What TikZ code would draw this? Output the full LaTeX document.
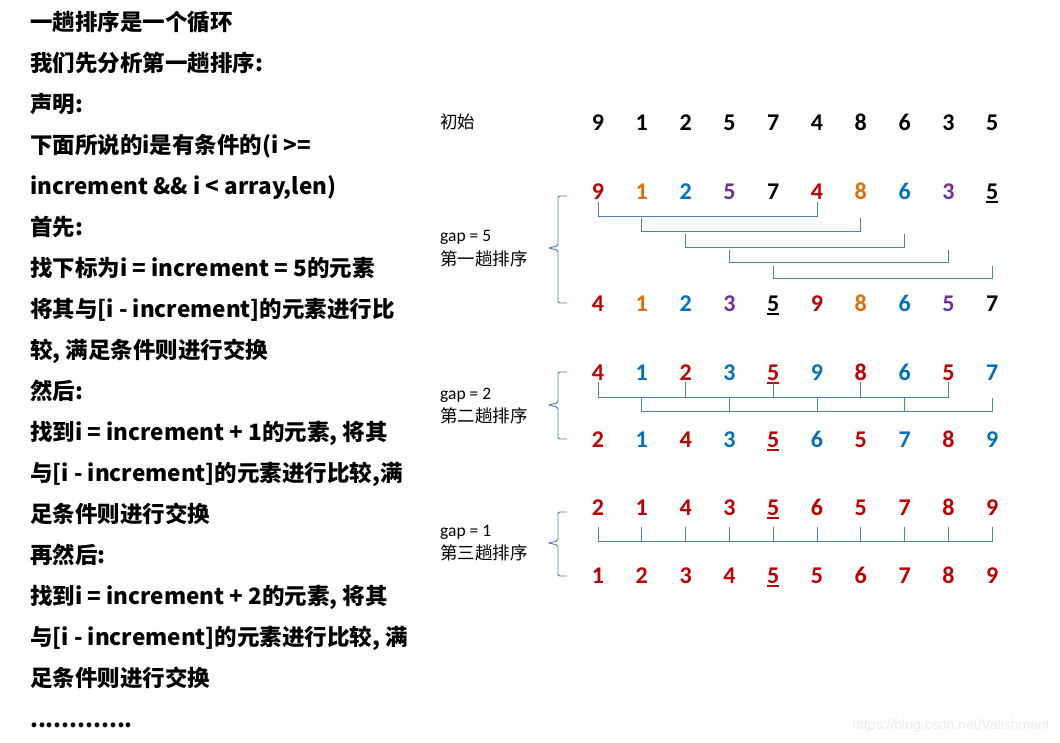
\documentclass[tikz,border=0pt]{standalone}
\usepackage{fontspec}
\usepackage{tikz}
\usetikzlibrary{calc}
\newfontfamily\cjk{Noto Sans CJK SC}
\newfontfamily\numf{Carlito}[BoldFont={Carlito Bold}]
\newfontfamily\webf{Liberation Sans}
\definecolor{rd}{HTML}{C00000}
\definecolor{og}{HTML}{E46C0A}
\definecolor{bl}{HTML}{0070C0}
\definecolor{pu}{HTML}{7030A0}
\definecolor{bk}{HTML}{000000}
\definecolor{ln}{HTML}{4F81BD}
\newcommand{\ul}[1]{\setbox0\hbox{#1}\rlap{\rule[-4pt]{\wd0}{1.8pt}}\box0}
% one row of ten digits: name, baseline, colour/digit list
\newcommand{\digrow}[3]{\foreach \c/\d [count=\i] in {#3}
  \node[num, text=\c] (#1\i) at ({598+43.8*(\i-1)},#2) {\d};}
\newcommand{\passbrace}[3]{\draw[brc] (567,#1) -| (558,#2-2) -- (548,#2) -- (558,#2+2) |- (567,#3);}
\tikzset{
  txt/.style={anchor=base west, inner sep=0pt, font=\cjk\bfseries\fontsize{22.5}{24}\selectfont},
  num/.style={anchor=base, inner sep=0pt, font=\fontsize{24}{26}\selectfont\numf\bfseries},
  lbl/.style={anchor=west, inner sep=0pt, font=\fontsize{17.5}{19}\selectfont},
  link/.style={draw=ln, line width=0.9pt},
  brc/.style={draw=ln, line width=0.9pt, rounded corners=2pt},
}
\begin{document}
\begin{tikzpicture}[x=1pt, y=-1pt]
\fill[white] (0,0) rectangle (1060,742);
\useasboundingbox (0,0) rectangle (1060,742);

% left column text
\foreach \t [count=\i] in {
  {一趟排序是一个循环},
  {我们先分析第一趟排序:},
  {声明:},
  {下面所说的i是有条件的(i >=},
  {increment \&\& i < array,len)},
  {首先:},
  {找下标为i = increment = 5的元素},
  {将其与[i - increment]的元素进行比},
  {较, 满足条件则进行交换},
  {然后:},
  {找到i = increment + 1的元素, 将其},
  {与[i - increment]的元素进行比较,满},
  {足条件则进行交换},
  {再然后:},
  {找到i = increment + 2的元素, 将其},
  {与[i - increment]的元素进行比较, 满},
  {足条件则进行交换}}
  \node[txt] (l\i) at (30,{30+41*(\i-1)}) {\t};
\node[txt] (l18) at (30,727) {.............};

% labels
\node[lbl] (init) at (440,122) {\cjk 初始};
\node[lbl] (g1) at (440,237) {\numf gap = 5};
\node[lbl] (p1) at (440,259) {\cjk 第一趟排序};
\node[lbl] (g2) at (440,395) {\numf gap = 2};
\node[lbl] (p2) at (440,416) {\cjk 第二趟排序};
\node[lbl] (g3) at (440,532) {\numf gap = 1};
\node[lbl] (p3) at (440,553) {\cjk 第三趟排序};

% digit rows
\digrow{s0}{130}{bk/9,bk/1,bk/2,bk/5,bk/7,bk/4,bk/8,bk/6,bk/3,bk/5}
\digrow{s1t}{199}{rd/9,og/1,bl/2,pu/5,bk/7,rd/4,og/8,bl/6,pu/3,bk/\ul{5}}
\digrow{s1b}{311}{rd/4,og/1,bl/2,pu/3,bk/\ul{5},rd/9,og/8,bl/6,pu/5,bk/7}
\digrow{s2t}{380}{rd/4,bl/1,rd/2,bl/3,rd/\ul{5},bl/9,rd/8,bl/6,rd/5,bl/7}
\digrow{s2b}{447}{rd/2,bl/1,rd/4,bl/3,rd/\ul{5},bl/6,rd/5,bl/7,rd/8,bl/9}
\digrow{s3t}{515}{rd/2,rd/1,rd/4,rd/3,rd/\ul{5},rd/6,rd/5,rd/7,rd/8,rd/9}
\digrow{s3b}{583}{rd/1,rd/2,rd/3,rd/4,rd/\ul{5},rd/5,rd/6,rd/7,rd/8,rd/9}

% braces
\passbrace{196}{248}{303}
\passbrace{372}{405}{439}
\passbrace{512}{543}{576}

% gap = 5 pairs
\foreach \k in {0,1,2,3,4} {
  \pgfmathtruncatemacro\a{\k+1}
  \pgfmathtruncatemacro\b{\k+6}
  \pgfmathsetmacro\yt{202+16*\k}
  \pgfmathsetmacro\yh{216+15.5*\k}
  \draw[link] (s1t\a |- 0,\yt) -- (s1t\a |- 0,\yh) -- (s1t\b |- 0,\yh) -- (s1t\b |- 0,\yt);
}

% gap = 2 groups
\draw[link] (s2t1 |- 0,382) -- (s2t1 |- 0,397) -- (s2t9 |- 0,397) -- (s2t9 |- 0,382);
\foreach \i in {3,5,7} \draw[link] (s2t\i |- 0,382) -- (s2t\i |- 0,397);
\draw[link] (s2t2 |- 0,397) -- (s2t2 |- 0,411) -- (s2t10 |- 0,411) -- (s2t10 |- 0,398);
\foreach \i in {4,6,8} \draw[link] (s2t\i |- 0,397) -- (s2t\i |- 0,411);

% gap = 1
\draw[link] (s3t1 |- 0,527) -- (s3t1 |- 0,541) -- (s3t10 |- 0,541) -- (s3t10 |- 0,527);
\foreach \i in {2,3,4,5,6,7,8,9} \draw[link] (s3t\i |- 0,527) -- (s3t\i |- 0,541);

\node[anchor=base east, inner sep=0pt, text=black!8, font=\webf\fontsize{14}{16}\selectfont] (wm) at (1050,729) {https://blog.csdn.net/Valishment};
\end{tikzpicture}
\end{document}
